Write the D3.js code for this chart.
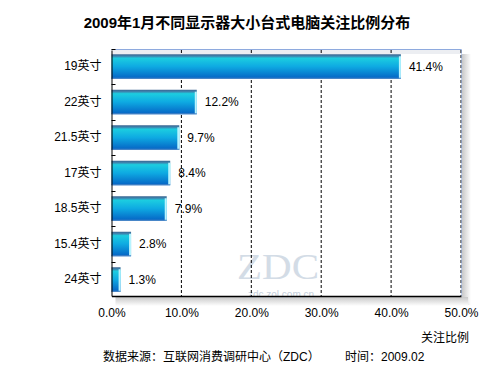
<!DOCTYPE html>
<html>
<head>
<meta charset="utf-8">
<script src="https://cdn.jsdelivr.net/npm/d3@7"></script>
<style>
  body { margin: 0; background: #fff; }
  text { font-family: "Liberation Sans", Arial, "Noto Sans CJK SC", sans-serif; }
</style>
</head>
<body>
<div id="chart"></div>
<script>
'use strict';

var categories = ['19英寸', '22英寸', '21.5英寸', '17英寸', '18.5英寸', '15.4英寸', '24英寸'];
var values = [41.4, 12.2, 9.7, 8.4, 7.9, 2.8, 1.3];
var ticks = [0, 10, 20, 30, 40, 50];

var w = 500, h = 375;
var plotLeft = 111.5, plotRight = 461, plotTop = 50, plotBottom = 296;

var svg = d3.select('#chart').append('svg')
  .attr('width', w)
  .attr('height', h);

var defs = svg.append('defs');

var grad = defs.append('linearGradient')
  .attr('id', 'barGrad')
  .attr('x1', 0).attr('y1', 0).attr('x2', 0).attr('y2', 1);
grad.append('stop').attr('offset', '0%').attr('stop-color', '#3a6490');
grad.append('stop').attr('offset', '8%').attr('stop-color', '#3d86b0');
grad.append('stop').attr('offset', '16%').attr('stop-color', '#1ccde0');
grad.append('stop').attr('offset', '50%').attr('stop-color', '#0eaae2');
grad.append('stop').attr('offset', '100%').attr('stop-color', '#0562c4');

var shadowR = defs.append('linearGradient')
  .attr('id', 'shadowR')
  .attr('x1', 0).attr('y1', 0).attr('x2', 1).attr('y2', 0);
shadowR.append('stop').attr('offset', '0%').attr('stop-color', '#c8c8c8');
shadowR.append('stop').attr('offset', '100%').attr('stop-color', '#ffffff');

var shadowB = defs.append('linearGradient')
  .attr('id', 'shadowB')
  .attr('x1', 0).attr('y1', 0).attr('x2', 0).attr('y2', 1);
shadowB.append('stop').attr('offset', '0%').attr('stop-color', '#c8c8c8');
shadowB.append('stop').attr('offset', '100%').attr('stop-color', '#ffffff');

var x = d3.scaleLinear().domain([0, 50]).range([plotLeft, plotRight]);
var y = d3.scaleBand().domain(categories).range([plotTop, plotBottom])
  .paddingInner(0.31).paddingOuter(0.12);

// Title
svg.append('text')
  .attr('x', 247)
  .attr('y', 28)
  .attr('text-anchor', 'middle')
  .attr('font-size', 15)
  .attr('font-weight', 'bold')
  .attr('fill', '#000')
  .text('2009年1月不同显示器大小台式电脑关注比例分布');

// Frame shadow
svg.append('rect')
  .attr('x', plotRight + 1).attr('y', plotTop + 4)
  .attr('width', 9).attr('height', plotBottom - plotTop + 5)
  .attr('fill', 'url(#shadowR)');
svg.append('rect')
  .attr('x', plotLeft + 4).attr('y', plotBottom + 1)
  .attr('width', plotRight - plotLeft + 3).attr('height', 9)
  .attr('fill', 'url(#shadowB)');

// Plot background
svg.append('rect')
  .attr('x', plotLeft).attr('y', plotTop)
  .attr('width', plotRight - plotLeft).attr('height', plotBottom - plotTop)
  .attr('fill', '#fff');
svg.append('rect')
  .attr('x', plotLeft).attr('y', plotTop)
  .attr('width', plotRight - plotLeft).attr('height', 4)
  .attr('fill', '#eceef2');

// Watermark
svg.append('text')
  .attr('x', 278).attr('y', 279)
  .attr('text-anchor', 'middle')
  .style('font-family', '"Liberation Serif", "DejaVu Serif", serif')
  .attr('font-size', 36)
  .attr('fill', '#d3dce6')
  .attr('textLength', 82)
  .attr('lengthAdjust', 'spacingAndGlyphs')
  .text('ZDC');
svg.append('text')
  .attr('x', 281).attr('y', 298)
  .attr('text-anchor', 'middle')
  .attr('font-size', 10)
  .attr('fill', '#c6d0dc')
  .text('zdc.zol.com.cn');

// Gridlines
svg.append('g')
  .selectAll('line')
  .data(ticks.slice(1))
  .enter().append('line')
  .attr('x1', function(d) { return x(d); })
  .attr('x2', function(d) { return x(d); })
  .attr('y1', plotTop)
  .attr('y2', plotBottom)
  .attr('stroke', '#000')
  .attr('stroke-width', 1)
  .attr('stroke-dasharray', '3,2');

// Frame border top/right
svg.append('line')
  .attr('x1', plotLeft).attr('x2', plotRight + 0.5)
  .attr('y1', plotTop - 0.5).attr('y2', plotTop - 0.5)
  .attr('stroke', '#8eaade');
svg.append('line')
  .attr('x1', plotRight + 0.5).attr('x2', plotRight + 0.5)
  .attr('y1', plotTop - 0.5).attr('y2', plotBottom)
  .attr('stroke', '#8eaade')
  .attr('stroke-opacity', 0.6);

// Bars
var bars = svg.append('g');
bars.selectAll('rect.bar')
  .data(values)
  .enter().append('rect')
  .attr('class', 'bar')
  .attr('x', plotLeft)
  .attr('y', function(d, i) { return y(categories[i]); })
  .attr('width', function(d) { return x(d) - plotLeft; })
  .attr('height', y.bandwidth())
  .attr('fill', 'url(#barGrad)');
bars.selectAll('rect.edge')
  .data(values)
  .enter().append('rect')
  .attr('class', 'edge')
  .attr('x', function(d) { return x(d) - 2; })
  .attr('y', function(d, i) { return y(categories[i]) + 2; })
  .attr('width', 2)
  .attr('height', y.bandwidth() - 2)
  .attr('fill', '#b8f4ff');
bars.selectAll('rect.bottomEdge')
  .data(values)
  .enter().append('rect')
  .attr('class', 'bottomEdge')
  .attr('x', plotLeft)
  .attr('y', function(d, i) { return y(categories[i]) + y.bandwidth() - 1; })
  .attr('width', function(d) { return x(d) - plotLeft; })
  .attr('height', 1)
  .attr('fill', '#4a84c4');

// Value labels
svg.append('g')
  .selectAll('text')
  .data(values)
  .enter().append('text')
  .attr('x', function(d) { return x(d) + 8; })
  .attr('y', function(d, i) { return y(categories[i]) + y.bandwidth() / 2; })
  .attr('dy', '0.35em')
  .attr('font-size', 12)
  .attr('fill', '#000')
  .text(function(d) { return d.toFixed(1) + '%'; });

// Y axis
var yAxis = d3.axisLeft(y).tickSize(0).tickPadding(10);
var gy = svg.append('g')
  .attr('transform', 'translate(' + plotLeft + ',0)')
  .call(yAxis);
gy.select('.domain').attr('stroke', '#000');
gy.selectAll('text')
  .attr('font-size', 12)
  .attr('fill', '#000')
  .attr('font-family', '"Liberation Sans", Arial, "Noto Sans CJK SC", sans-serif');

// Category boundary ticks
var step = y.step();
svg.append('g')
  .selectAll('line')
  .data(categories.slice(1))
  .enter().append('line')
  .attr('x1', plotLeft)
  .attr('x2', plotLeft + 4)
  .attr('y1', function(d) { return Math.round(y(d) - step * y.paddingInner() / 2) + 0.5; })
  .attr('y2', function(d) { return Math.round(y(d) - step * y.paddingInner() / 2) + 0.5; })
  .attr('stroke', '#000');
svg.append('line')
  .attr('x1', plotLeft).attr('x2', plotLeft + 4)
  .attr('y1', plotTop - 0.5).attr('y2', plotTop - 0.5)
  .attr('stroke', '#000');

// X axis
var xAxis = d3.axisBottom(x)
  .tickValues(ticks)
  .tickSize(0)
  .tickPadding(12)
  .tickFormat(function(d) { return d.toFixed(1) + '%'; });
var gx = svg.append('g')
  .attr('transform', 'translate(0,' + plotBottom + ')')
  .call(xAxis);
gx.select('.domain').attr('stroke', '#000').attr('stroke-width', 1.5);
gx.selectAll('text')
  .attr('font-size', 12)
  .attr('fill', '#000')
  .attr('font-family', '"Liberation Sans", Arial, "Noto Sans CJK SC", sans-serif');

// Axis title
svg.append('text')
  .attr('x', 469).attr('y', 342)
  .attr('text-anchor', 'end')
  .attr('font-size', 12)
  .attr('fill', '#000')
  .text('关注比例');

// Footer
svg.append('text')
  .attr('x', 103).attr('y', 361)
  .attr('font-size', 12)
  .attr('fill', '#000')
  .text('数据来源：互联网消费调研中心（ZDC）');
svg.append('text')
  .attr('x', 345).attr('y', 361)
  .attr('font-size', 12)
  .attr('fill', '#000')
  .text('时间：2009.02');
</script>
</body>
</html>
